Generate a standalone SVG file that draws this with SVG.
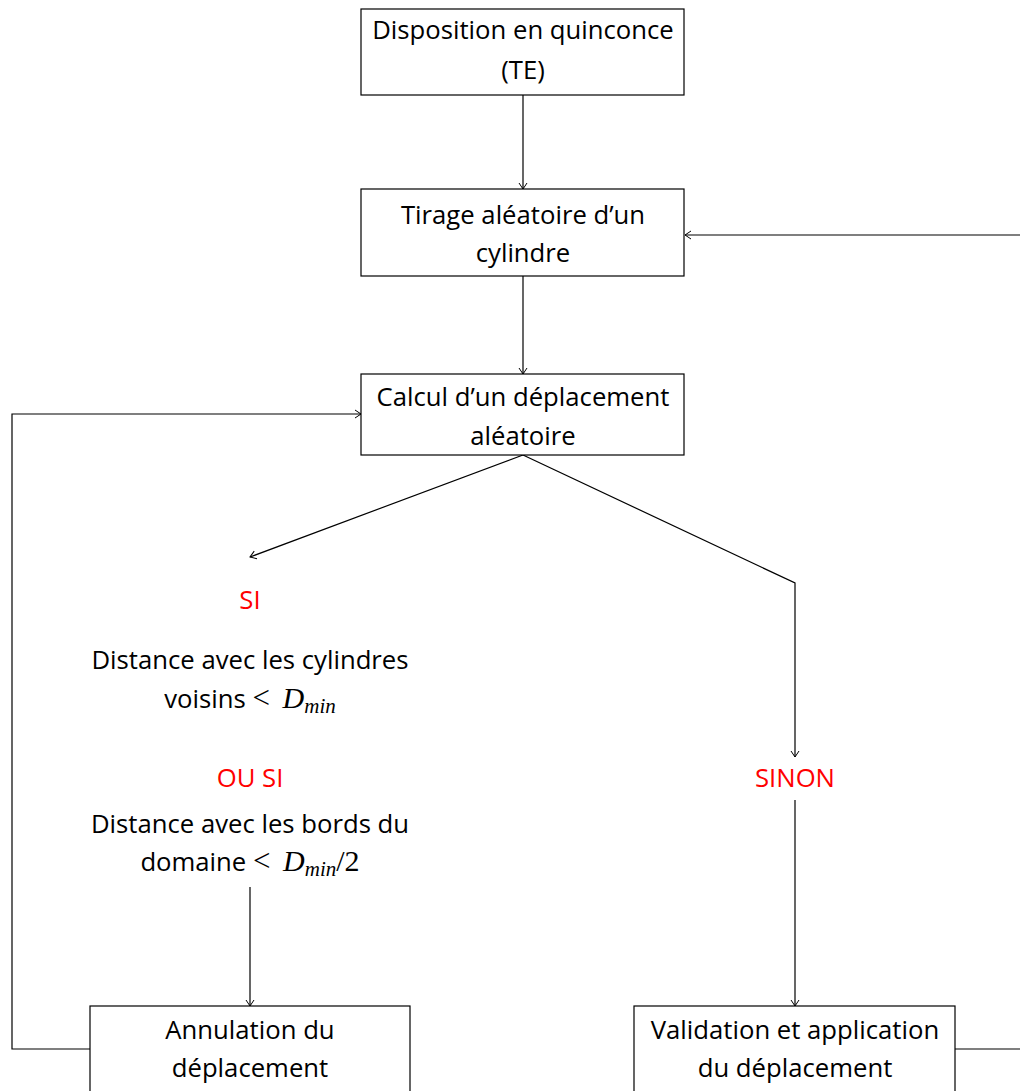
<svg xmlns="http://www.w3.org/2000/svg" width="1020" height="1091" viewBox="0 0 1020 1091">
<style>
.box{fill:#fff;stroke:#000;stroke-width:1.2}
.t{font-family:"Open Sans","DejaVu Sans",sans-serif;font-size:25.7px;fill:#000;text-anchor:middle}
.r{fill:#ff0000}
.m{font-family:"Liberation Serif",serif;font-style:italic}
.s{font-family:"Liberation Serif",serif}
.c{fill:none;stroke:#000;stroke-width:1.2}
</style>
<defs>
<marker id="a" markerWidth="10" markerHeight="10" refX="8" refY="5" orient="auto" markerUnits="userSpaceOnUse">
<path d="M2,1 L8,5 L2,9" fill="none" stroke="#000" stroke-width="1"/>
</marker>
</defs>
<g id="connectors">
<line class="c" x1="523" y1="95" x2="523" y2="189" marker-end="url(#a)"/>
<line class="c" x1="523" y1="276" x2="523" y2="374" marker-end="url(#a)"/>
<polyline class="c" points="1022,235 685,235" marker-end="url(#a)"/>
<polyline class="c" points="90,1049 12,1049 12,414 361,414" marker-end="url(#a)"/>
<polyline class="c" points="955,1049 1022,1049"/>
<line class="c" x1="523" y1="455" x2="250" y2="557" marker-end="url(#a)"/>
<polyline class="c" points="523,455 795,583 795,757" marker-end="url(#a)"/>
<line class="c" x1="250" y1="887" x2="250" y2="1006" marker-end="url(#a)"/>
<line class="c" x1="795" y1="800" x2="795" y2="1006" marker-end="url(#a)"/>
</g>
<g id="n1">
<rect class="box" x="361" y="9" width="323" height="86"/>
<text class="t" x="523" y="39">Disposition en quinconce</text>
<text class="t" x="523" y="79">(TE)</text>
</g>
<g id="n2">
<rect class="box" x="361" y="189" width="323" height="87"/>
<text class="t" x="523" y="224">Tirage aléatoire d’un</text>
<text class="t" x="523" y="262">cylindre</text>
</g>
<g id="n3">
<rect class="box" x="361" y="374" width="323" height="81"/>
<text class="t" x="523" y="406">Calcul d’un déplacement</text>
<text class="t" x="523" y="445">aléatoire</text>
</g>
<g id="cond-si">
<text class="t r" x="250" y="609">SI</text>
<text class="t" x="250" y="669">Distance avec les cylindres</text>
<text class="t" x="250" y="708">voisins <tspan class="s" font-size="31">&lt;</tspan> <tspan class="m" font-size="30" dx="6">D</tspan><tspan class="m" font-size="21" dy="5">min</tspan></text>
<text class="t r" x="250" y="787">OU SI</text>
<text class="t" x="250" y="833">Distance avec les bords du</text>
<text class="t" x="250" y="871">domaine <tspan class="s" font-size="31">&lt;</tspan> <tspan class="m" font-size="30" dx="6">D</tspan><tspan class="m" font-size="21" dy="5">min</tspan><tspan class="s" font-size="30" dy="-5">/2</tspan></text>
</g>
<g id="cond-sinon">
<text class="t r" x="795" y="787">SINON</text>
</g>
<g id="n4">
<rect class="box" x="90" y="1006" width="320" height="100"/>
<text class="t" x="250" y="1039">Annulation du</text>
<text class="t" x="250" y="1077">déplacement</text>
</g>
<g id="n5">
<rect class="box" x="634" y="1006" width="321" height="100"/>
<text class="t" x="795" y="1039">Validation et application</text>
<text class="t" x="795" y="1077">du déplacement</text>
</g>
</svg>
